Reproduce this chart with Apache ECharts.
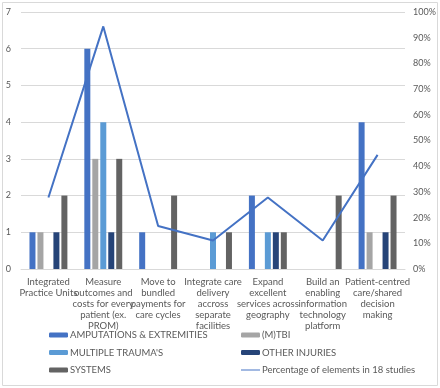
<!DOCTYPE html>
<html><head><meta charset="utf-8">
<script src="https://cdn.jsdelivr.net/npm/echarts@6/dist/echarts.min.js"></script>
<style>html,body{margin:0;padding:0;background:#fff}#c{width:440px;height:388px}</style>
</head><body><div id="c"></div>
<script>
const categories = [
  "Integrated\nPractice Units",
  "Measure\noutcomes and\ncosts for every\npatient (ex.\nPROM)",
  "Move to\nbundled\npayments for\ncare cycles",
  "Integrate care\ndelivery\naccross\nseparate\nfacilities",
  "Expand\nexcellent\nservices across\ngeography",
  "Build an\nenabling\ninformation\ntechnology\nplatform",
  "Patient-centred\ncare/shared\ndecision\nmaking"
];
const amputations = [1, 6, 1, 0, 2, 0, 4];
const mtbi = [1, 3, 0, 0, 0, 0, 1];
const multipleTrauma = [0, 4, 0, 1, 1, 0, 0];
const otherInjuries = [1, 1, 0, 0, 1, 0, 1];
const systems = [2, 3, 2, 1, 1, 2, 2];
const percentage = [27.8, 94.4, 16.7, 11.1, 27.8, 11.1, 44.4];

const font = "Lato";
const txt = '#595959';
const chart = echarts.init(document.getElementById('c'));
const bar = (name, data, color) => ({
  name, type: 'bar', data, barWidth: 6, barGap: '33%',
  itemStyle: { color }, yAxisIndex: 0
});
const legendText = { fontSize: 9.5, color: txt, fontFamily: font, padding: [0, 0, 0, -3] };
chart.setOption({
  animation: false,
  textStyle: { fontFamily: font },
  graphic: [{ type: 'rect', shape: { x: 2.5, y: 2.5, width: 435, height: 383 },
    style: { fill: 'none', stroke: '#d9d9d9', lineWidth: 1 } }],
  grid: { left: 21, right: 35, top: 12, bottom: 119 },
  legend: [
    { left: 44, top: 325, height: 62, orient: 'vertical', itemWidth: 19, itemHeight: 5, itemGap: 7.5,
      textStyle: legendText,
      data: ['AMPUTATIONS & EXTREMITIES', "MULTIPLE TRAUMA'S", 'SYSTEMS'] },
    { left: 236, top: 325, height: 62, orient: 'vertical', itemWidth: 19, itemHeight: 5, itemGap: 7.5,
      textStyle: legendText,
      data: ['(M)TBI', 'OTHER INJURIES', { name: 'Percentage of elements in 18 studies',
        icon: 'path://M0,2L19,2L19,3L0,3Z', itemStyle: { color: '#4472C4' } }] }
  ],
  xAxis: {
    type: 'category', data: categories,
    axisLine: { lineStyle: { color: '#d9d9d9' } },
    axisTick: { show: false },
    axisLabel: { interval: 0, fontSize: 9.5, color: txt, lineHeight: 11, margin: 7, fontFamily: font }
  },
  yAxis: [
    { type: 'value', min: 0, max: 7, interval: 1,
      axisLabel: { fontSize: 9, color: txt, margin: 10, fontFamily: font },
      splitLine: { lineStyle: { color: '#d9d9d9' } },
      axisLine: { show: false }, axisTick: { show: false } },
    { type: 'value', min: 0, max: 100, interval: 10,
      axisLabel: { fontSize: 9, color: txt, formatter: '{value}%', margin: 8, fontFamily: font },
      splitLine: { show: false }, axisLine: { show: false }, axisTick: { show: false } }
  ],
  series: [
    bar('AMPUTATIONS & EXTREMITIES', amputations, '#4472C4'),
    bar('(M)TBI', mtbi, '#A5A5A5'),
    bar("MULTIPLE TRAUMA'S", multipleTrauma, '#5B9BD5'),
    bar('OTHER INJURIES', otherInjuries, '#264478'),
    bar('SYSTEMS', systems, '#636363'),
    { name: 'Percentage of elements in 18 studies', type: 'line', yAxisIndex: 1,
      data: percentage, showSymbol: false, symbol: 'none',
      lineStyle: { color: '#4472C4', width: 2 }, itemStyle: { color: '#4472C4' } }
  ]
});
</script></body></html>
